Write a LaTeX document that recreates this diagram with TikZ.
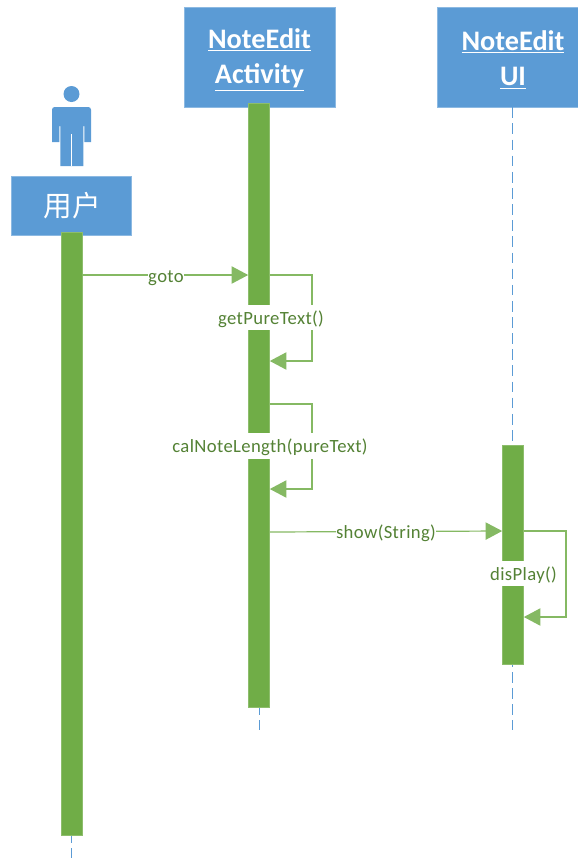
\documentclass[tikz,border=0pt]{standalone}
\usepackage{fontspec}
\setmainfont{Carlito}
\newfontfamily\cjk{Noto Sans CJK SC}
\newfontfamily\labelfont[LetterSpace=2]{Carlito}
\usetikzlibrary{arrows.meta}
\definecolor{boxblue}{HTML}{5B9BD5}
\definecolor{bargreen}{HTML}{70AD47}
\definecolor{labelgreen}{HTML}{548235}
\tikzset{
	objbox/.style = {fill = boxblue, draw = boxblue!70!white, line width = 0.5pt, text = white, font = \bfseries\fontsize{21.2}{26.5}\selectfont, align = center, inner sep = 0pt},
	bar/.style = {fill = bargreen, draw = bargreen!80!white, line width = 0.4pt, minimum width = 15.8pt, inner sep = 0pt},
	lifeline/.style = {color = boxblue, line width = 0.7pt, dash pattern = on 8pt off 4.1pt},
	msg/.style = {color = bargreen!85!white, line width = 0.9pt, -{Triangle[length = 12.5pt, width = 13pt]}},
	msglabel/.style = {fill = white, text = labelgreen, font = \labelfont\fontsize{14}{16}\selectfont, inner sep = 0pt, text height = 14.6pt, text depth = 4pt}
}
\begin{document}
\begin{tikzpicture}[x=0.75pt, y=-0.75pt]
	\useasboundingbox (0,0) rectangle (578,858);
	% lifelines
	\coordinate (userEnd) at (71.5,858);
	\coordinate (activityEnd) at (259,730);
	\coordinate (uiEnd) at (512.5,730);
	\node [objbox, minimum width = 113.5pt, minimum height = 75pt] (activity) at (259.5,57) {\rule{0pt}{19pt}\underline{NoteEdit}\\\underline{Activity}};
	\node [objbox, minimum width = 114pt, minimum height = 75pt] (ui) at (513,57) {\rule{0pt}{19pt}\underline{NoteEdit}\\\underline{UI}};
	\node [objbox, minimum width = 90pt, minimum height = 44pt, font = \cjk\fontsize{21.5}{24}\selectfont] (user) at (71.5,205.5) {\hspace{1.5pt}用户};
	\draw [lifeline] (ui.south -| uiEnd) -- (uiEnd);
	\draw [lifeline] (activity.south -| activityEnd) -- (activityEnd);
	\draw [lifeline] (user.south -| userEnd) -- (userEnd);
	% person
	\fill [boxblue] (71.5,94) circle (6pt);
	\fill [boxblue] (52,142) [rounded corners = 2pt] -- (52,107) -- (91,107) [sharp corners] -- (91,142) -- (84.3,142) -- (84.3,126) -- (83.3,126) -- (83.3,166) -- (60.3,166) -- (60.3,126) -- (59.3,126) -- (59.3,142) -- cycle;
	\draw [white, line width = 0.6pt] (71.5,134) -- (71.5,166);
	% bars
	\node [bar, minimum height = 452.5pt] (userBar) at (71.5,533.7) {};
	\node [bar, minimum height = 453.25pt] (activityBar) at (259,405.2) {};
	\node [bar, minimum height = 164.5pt] (uiBar) at (513,554.7) {};
	% messages
	\coordinate (gotoFrom) at (userBar.east |- 0,275);
	\coordinate (gotoTo) at (activityBar.west |- 0,275);
	\coordinate (pureFrom) at (activityBar.east |- 0,275);
	\coordinate (pureTo) at (activityBar.east |- 0,361);
	\coordinate (lengthFrom) at (activityBar.east |- 0,404);
	\coordinate (lengthTo) at (activityBar.east |- 0,489);
	\coordinate (showFrom) at (activityBar.east |- 0,532);
	\coordinate (showTo) at (uiBar.west |- 0,531);
	\coordinate (playFrom) at (uiBar.east |- 0,531);
	\coordinate (playTo) at (uiBar.east |- 0,617);
	\draw [msg] (gotoFrom) -- (gotoTo);
	\draw [msg] (pureFrom) -- (312,275) -- (312,361) -- (pureTo);
	\draw [msg] (lengthFrom) -- (312,404) -- (312,489) -- (lengthTo);
	\draw [msg] (showFrom) -- (showTo);
	\draw [msg] (playFrom) -- (566,531) -- (566,617) -- (playTo);
	% labels
	\node [msglabel] (gotoLabel) at (166,275) {goto};
	\node [msglabel] (pureLabel) at (271,317.5) {getPureText()};
	\node [msglabel, text depth = 4.5pt] (lengthLabel) at (270,446) {calNoteLength(pureText)};
	\node [msglabel] (showLabel) at (386,531) {show(String)};
	\node [msglabel] (playLabel) at (523.5,573.5) {disPlay()};
\end{tikzpicture}
\end{document}
